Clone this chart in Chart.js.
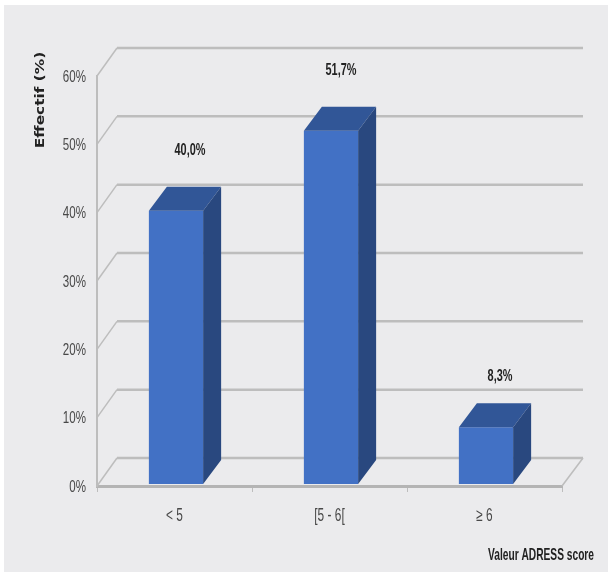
<!DOCTYPE html>
<html>
<head>
<meta charset="utf-8">
<title>Valeur ADRESS score</title>
<script src="https://cdn.jsdelivr.net/npm/chart.js@4/dist/chart.umd.min.js"></script>
<style>
  html, body { margin: 0; padding: 0; background: #fff; }
  canvas { display: block; }
</style>
</head>
<body>
<canvas id="adressChart" width="608" height="572"></canvas>
<script>
const categories = ['< 5', '[5 - 6[', '≥ 6'];
const effectif = [40.0, 51.7, 8.3];
const yTicks = [0, 10, 20, 30, 40, 50, 60];

const sans = '"Liberation Sans", sans-serif';
const depthX = 20, depthY = 28;   // wall offset of the fake 3D box
const barDepthX = 18, barDepthY = 24;
const labelLift = [60, 60, 51];   // height of each value label over its bar
const labelShift = [15.5, 11.5, 15.5];

// no condensed face is installed, so squeeze the text horizontally
function squeezed(ctx, text, x, y, sx) {
  ctx.save();
  ctx.translate(x, y);
  ctx.scale(sx, 1);
  ctx.fillText(text, 0, 0);
  ctx.restore();
}

// back wall, floor and side wall lines, behind the bars
const boxPlugin = {
  id: 'box',
  beforeDraw(chart) {
    const ctx = chart.ctx;
    ctx.save();
    ctx.fillStyle = '#ebebed';
    ctx.fillRect(4, 5, 604, 567);
    ctx.restore();
  },
  beforeDatasetsDraw(chart) {
    const ctx = chart.ctx, y = chart.scales.y, a = chart.chartArea;
    ctx.save();
    yTicks.forEach(v => {
      const py = y.getPixelForValue(v);
      ctx.strokeStyle = '#bdbdbd';
      ctx.lineWidth = 1.5;
      ctx.beginPath();
      ctx.moveTo(a.left, py);
      ctx.lineTo(a.left + depthX, py - depthY);
      ctx.stroke();
      ctx.lineWidth = 2.5;
      ctx.beginPath();
      ctx.moveTo(a.left + depthX, py - depthY);
      ctx.lineTo(a.right + depthX + 1, py - depthY);
      ctx.stroke();
    });
    const floor = y.getPixelForValue(0);
    ctx.lineWidth = 1.5;
    ctx.beginPath();
    ctx.moveTo(a.right, floor);
    ctx.lineTo(a.right + depthX + 1, floor - depthY);
    ctx.stroke();
    ctx.restore();
    // bars stand a little inside the floor
    ctx.save();
    ctx.translate(1.5, -2);
  },
  afterDatasetsDraw(chart) {
    const ctx = chart.ctx;
    chart.getDatasetMeta(0).data.forEach(bar => {
      const l = bar.x - bar.width / 2, r = bar.x + bar.width / 2;
      ctx.fillStyle = '#315697';
      ctx.beginPath();
      ctx.moveTo(l, bar.y);
      ctx.lineTo(l + barDepthX, bar.y - barDepthY);
      ctx.lineTo(r + barDepthX, bar.y - barDepthY);
      ctx.lineTo(r, bar.y);
      ctx.closePath();
      ctx.fill();
      ctx.fillStyle = '#29487f';
      ctx.beginPath();
      ctx.moveTo(r, bar.y);
      ctx.lineTo(r + barDepthX, bar.y - barDepthY);
      ctx.lineTo(r + barDepthX, bar.base - barDepthY);
      ctx.lineTo(r, bar.base);
      ctx.closePath();
      ctx.fill();
    });
    ctx.restore();
  },
  afterDraw(chart) {
    const ctx = chart.ctx, x = chart.scales.x, y = chart.scales.y;
    ctx.save();
    ctx.textBaseline = 'middle';

    // tick labels
    ctx.fillStyle = '#484848';
    ctx.font = '17px ' + sans;
    ctx.textAlign = 'right';
    yTicks.forEach(v => squeezed(ctx, v + '%', 86, y.getPixelForValue(v) + 1, 0.68));
    ctx.font = '18px ' + sans;
    ctx.textAlign = 'center';
    categories.forEach((c, i) => squeezed(ctx, c, x.getPixelForValue(i), 516, 0.66));

    // value labels
    ctx.fillStyle = '#222';
    ctx.font = 'bold 16.5px ' + sans;
    chart.getDatasetMeta(0).data.forEach((bar, i) => {
      const text = effectif[i].toFixed(1).replace('.', ',') + '%';
      squeezed(ctx, text, bar.x + labelShift[i], bar.y - labelLift[i] - 2, 0.66);
    });

    // axis names
    ctx.textAlign = 'right';
    ctx.font = 'bold 17px ' + sans;
    squeezed(ctx, 'Valeur ADRESS score', 594, 555, 0.6);
    ctx.translate(41, 100);
    ctx.rotate(-Math.PI / 2);
    ctx.textAlign = 'center';
    ctx.font = 'bold 13px "DejaVu Sans", sans-serif';
    squeezed(ctx, 'Effectif (%)', 0, 0, 1.18);
    ctx.restore();
  }
};

new Chart(document.getElementById('adressChart'), {
  type: 'bar',
  data: {
    labels: categories,
    datasets: [{
      data: effectif,
      backgroundColor: '#4271c5',
      borderWidth: 0,
      categoryPercentage: 1,
      barPercentage: 0.35
    }]
  },
  options: {
    responsive: false,
    animation: false,
    layout: { padding: { top: 76, right: 46, bottom: 0, left: 0 } },
    plugins: { legend: { display: false }, tooltip: { enabled: false } },
    scales: {
      x: {
        afterFit(scale) { scale.height = 86; },
        grid: { drawOnChartArea: false, color: '#bdbdbd', tickLength: 6, tickWidth: 1 },
        border: { color: '#b4b4b4', width: 3 },
        ticks: { display: false }
      },
      y: {
        min: 0,
        max: 60,
        afterFit(scale) { scale.width = 97; },
        afterBuildTicks(scale) { scale.ticks = yTicks.map(value => ({ value })); },
        grid: { display: false, drawTicks: false },
        border: { color: '#bdbdbd', width: 2 },
        ticks: { display: false }
      }
    }
  },
  plugins: [boxPlugin]
});
</script>
</body>
</html>
